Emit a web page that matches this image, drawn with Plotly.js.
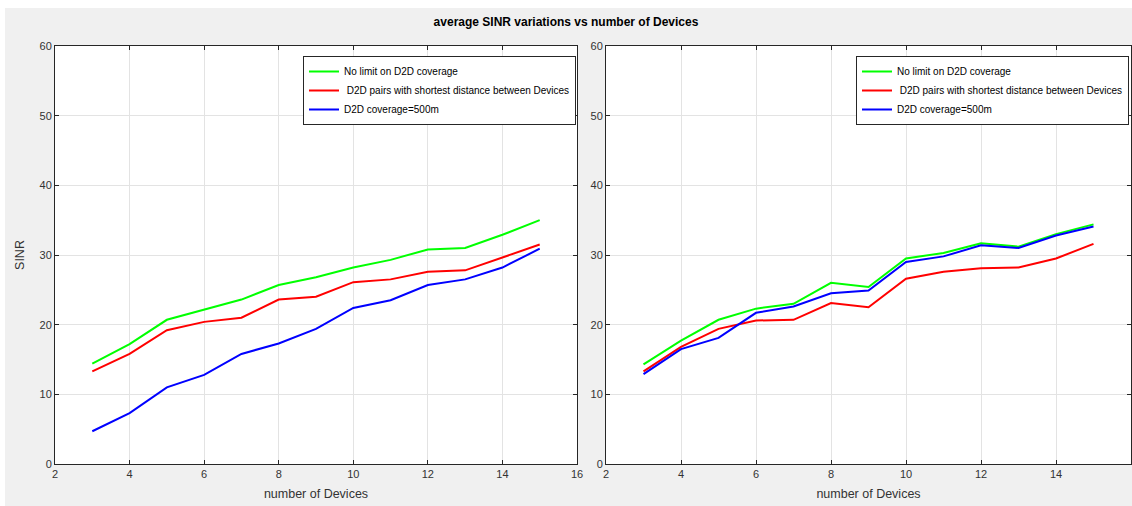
<!DOCTYPE html>
<html>
<head>
<meta charset="utf-8">
<script src="https://cdn.plot.ly/plotly-3.0.1.min.js"></script>
<style>html,body{margin:0;padding:0;background:#fff;}#chart{width:1132px;height:506px;}</style>
</head>
<body>
<div id="chart"></div>
<script>
// ---- data ----
const devices = [3, 4, 5, 6, 7, 8, 9, 10, 11, 12, 13, 14, 15];
const seriesNames = ["No limit on D2D coverage", " D2D pairs with shortest distance between Devices", "D2D coverage=500m"];
const seriesColors = ["#00ff00", "#ff0000", "#0000ff"];

const leftNoLimit  = [14.4, 17.2, 20.7, 22.1, 23.6, 25.7, 26.8, 28.2, 29.3, 30.8, 31.0, 32.9, 35.0];
const leftShortest = [13.3, 15.8, 19.2, 20.4, 21.0, 23.6, 24.0, 26.1, 26.5, 27.6, 27.8, 29.6, 31.5];
const left500m     = [4.7, 7.3, 11.0, 12.8, 15.8, 17.3, 19.4, 22.4, 23.5, 25.7, 26.5, 28.2, 30.9];

const rightNoLimit  = [14.3, 17.7, 20.7, 22.3, 23.0, 26.0, 25.4, 29.5, 30.3, 31.7, 31.2, 33.0, 34.4];
const rightShortest = [13.3, 16.8, 19.4, 20.6, 20.7, 23.1, 22.5, 26.6, 27.6, 28.1, 28.2, 29.5, 31.6];
const right500m     = [12.9, 16.5, 18.1, 21.7, 22.6, 24.5, 24.9, 29.0, 29.8, 31.4, 31.0, 32.8, 34.1];

const xTicks = [2, 4, 6, 8, 10, 12, 14, 16];
const yTicks = [0, 10, 20, 30, 40, 50, 60];

const titleText = "average SINR variations vs number of Devices";
const xTitle = "number of Devices";
const yTitle = "SINR";

// ---- build ----
const W = 1132, H = 506;
const FONT = "Liberation Sans, Arial, sans-serif";
const leftSets = [leftNoLimit, leftShortest, left500m];
const rightSets = [rightNoLimit, rightShortest, right500m];

const traces = [];
leftSets.forEach((ys, i) => traces.push({
  x: devices, y: ys, type: "scatter", mode: "lines", name: seriesNames[i],
  line: {color: seriesColors[i], width: 2}, xaxis: "x", yaxis: "y", legend: "legend"
}));
rightSets.forEach((ys, i) => traces.push({
  x: devices, y: ys, type: "scatter", mode: "lines", name: seriesNames[i],
  line: {color: seriesColors[i], width: 2}, xaxis: "x2", yaxis: "y2", legend: "legend2"
}));

const axisCommon = {
  showline: true, linecolor: "#262626", linewidth: 1, mirror: "ticks",
  ticks: "inside", ticklen: 4, tickcolor: "#262626",
  showgrid: true, gridcolor: "#e3e3e3", gridwidth: 1, zeroline: false,
  tickfont: {family: FONT, size: 11, color: "#333"}
};
const yDomain = [1 - 464 / H, 1 - 46 / H];

const legendCommon = {
  xanchor: "left", yanchor: "top", y: 1 - 56 / H,
  bgcolor: "#ffffff", bordercolor: "#262626", borderwidth: 1,
  font: {family: FONT, size: 10, color: "#000"}, tracegroupgap: 0
};

const layout = {
  width: W, height: H,
  paper_bgcolor: "#f0f0f0", plot_bgcolor: "#ffffff",
  margin: {l: 0, r: 0, t: 0, b: 0},
  showlegend: true,
  title: {text: "<b>" + titleText + "</b>", font: {family: FONT, size: 12, color: "#000"},
          x: 0.5, xanchor: "center", y: 1 - 22 / H, yanchor: "middle", xref: "paper", yref: "paper"},
  shapes: [
    {type: "rect", xref: "paper", yref: "paper", x0: 0, x1: 1, y0: 1 - 8 / H, y1: 1,
     fillcolor: "#ffffff", line: {width: 0}, layer: "above"},
    {type: "rect", xref: "paper", yref: "paper", x0: 0, x1: 5 / W, y0: 0, y1: 1,
     fillcolor: "#ffffff", line: {width: 0}, layer: "above"}
  ],
  xaxis: Object.assign({}, axisCommon, {domain: [55 / W, 577 / W], range: [2, 16], tickvals: xTicks, anchor: "y",
    title: {text: xTitle, font: {family: FONT, size: 12.5, color: "#333"}, standoff: 10}}),
  yaxis: Object.assign({}, axisCommon, {domain: yDomain, range: [0, 60], tickvals: yTicks, anchor: "x",
    title: {text: yTitle, font: {family: FONT, size: 12.5, color: "#333"}, standoff: 12}}),
  xaxis2: Object.assign({}, axisCommon, {domain: [606 / W, 1131 / W], range: [2, 16], tickvals: xTicks, anchor: "y2",
    title: {text: xTitle, font: {family: FONT, size: 12.5, color: "#333"}, standoff: 10}}),
  yaxis2: Object.assign({}, axisCommon, {domain: yDomain, range: [0, 60], tickvals: yTicks, anchor: "x2"}),
  legend: Object.assign({}, legendCommon, {x: 303 / W}),
  legend2: Object.assign({}, legendCommon, {x: 856 / W})
};

Plotly.newPlot("chart", traces, layout, {displayModeBar: false, staticPlot: true});
</script>
</body>
</html>
